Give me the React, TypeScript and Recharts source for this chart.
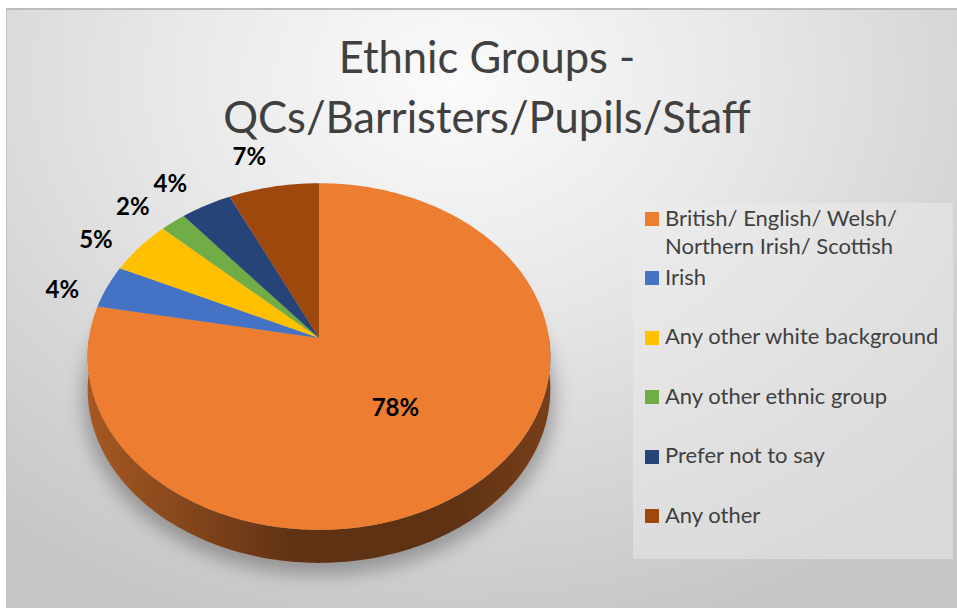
import React from 'react';
import { PieChart, Pie, Cell, Legend } from 'recharts';

const categories = [
  'British/ English/ Welsh/ Northern Irish/ Scottish',
  'Irish',
  'Any other white background',
  'Any other ethnic group',
  'Prefer not to say',
  'Any other',
];
const values = [78, 4, 5, 2, 4, 7];
const colors = ['#ED7D31', '#4472C4', '#FFC000', '#70AD47', '#264478', '#9E480E'];
const titleLines = ['Ethnic Groups -', 'QCs/Barristers/Pupils/Staff'];

const data = categories.map((name, i) => ({ name, value: values[i] }));
const baseData = [{ name: 'base', value: 1 }];

const TILT = 0.745;
const PERSP = 0.107;
const DEPTH = 33;
const FONT = 'Lato, Carlito, Calibri, sans-serif';

function proj(cx: number, cy: number, R: number, deg: number, r = 1): [number, number] {
  const t = (deg * Math.PI) / 180;
  const u = r * Math.cos(t);
  const v = r * Math.sin(t);
  const d = 1 + PERSP * v;
  return [cx + (R * u) / d, cy - (R * TILT * v) / d];
}

function shade(hex: string, f: number) {
  const n = parseInt(hex.slice(1), 16);
  const r = Math.round(((n >> 16) & 255) * f);
  const g = Math.round(((n >> 8) & 255) * f);
  const b = Math.round((n & 255) * f);
  return `rgb(${r},${g},${b})`;
}

function arcPts(cx: number, cy: number, R: number, a1: number, a2: number, dy = 0) {
  const steps = Math.max(2, Math.ceil(Math.abs(a2 - a1)));
  const out: string[] = [];
  for (let s = 0; s <= steps; s++) {
    const a = a1 + ((a2 - a1) * s) / steps;
    const [x, y] = proj(cx, cy, R, a);
    out.push(`${x.toFixed(2)},${(y + dy).toFixed(2)}`);
  }
  return out;
}

const SliceShape = (props: any) => {
  const { cx, cy, outerRadius, startAngle, endAngle, fill, index } = props;
  const R = outerRadius;
  const lo = Math.min(startAngle, endAngle);
  const hi = Math.max(startAngle, endAngle);
  const sides: string[] = [];
  for (let k = -2; k <= 1; k++) {
    const a1 = Math.max(lo, -180 + 360 * k);
    const a2 = Math.min(hi, 360 * k);
    if (a2 - a1 > 0.01) {
      const topArc = arcPts(cx, cy, R, a1, a2);
      const botArc = arcPts(cx, cy, R, a2, a1, DEPTH);
      sides.push('M' + topArc.join(' L') + ' L' + botArc.join(' L') + ' Z');
    }
  }
  const top = `M${cx},${cy} L` + arcPts(cx, cy, R, startAngle, endAngle).join(' L') + ' Z';
  const gid = `side-grad-${index}`;
  return (
    <g>
      <defs>
        <linearGradient id={gid} gradientUnits="userSpaceOnUse" x1={cx - R} y1={0} x2={cx + R} y2={0}>
          <stop offset="0" stopColor={shade(fill, 0.7)} />
          <stop offset="0.45" stopColor={shade(fill, 0.4)} />
          <stop offset="0.8" stopColor={shade(fill, 0.4)} />
          <stop offset="1" stopColor={shade(fill, 0.5)} />
        </linearGradient>
      </defs>
      {sides.map((d, i) => (
        <path key={i} d={d} fill={`url(#${gid})`} stroke="none" />
      ))}
      <path d={top} fill={fill} stroke="none" />
    </g>
  );
};

const ShadowShape = (props: any) => {
  const { cx, cy, outerRadius } = props;
  const R = outerRadius;
  const top = 'M' + arcPts(cx, cy, R * 1.02, 0, 360, DEPTH + 8).join(' L') + ' Z';
  return (
    <g>
      <defs>
        <filter id="pie-shadow" x="-30%" y="-30%" width="160%" height="160%">
          <feGaussianBlur stdDeviation="9" />
        </filter>
      </defs>
      <path d={top} fill="#000" fillOpacity={0.28} filter="url(#pie-shadow)" />
    </g>
  );
};

const renderLabel = (props: any) => {
  const { cx, cy, midAngle, outerRadius, percent, value } = props;
  let x: number;
  let y: number;
  if (percent > 0.5) {
    [x, y] = proj(cx, cy, outerRadius, midAngle, 0.5);
  } else {
    const [ex, ey] = proj(cx, cy, outerRadius, midAngle, 1);
    const t = ((midAngle + 20) * Math.PI) / 180;
    x = ex + 45 * Math.cos(t);
    y = ey - 37 * Math.sin(t);
  }
  return (
    <text x={x} y={y} textAnchor="middle" dominantBaseline="central" fontFamily={FONT} fontWeight={700} fontSize={24} fill="#000">
      {`${value}%`}
    </text>
  );
};

const renderLegend = (props: any) => {
  const payload = props.payload || [];
  const items = categories.map((name, i) => {
    const p = payload.find((q: any) => q.value === name);
    return { name, color: (p && p.color) || colors[i] };
  });
  return (
    <div style={{ position: 'relative', width: 320, height: 356, background: 'rgba(236,236,236,0.5)' }}>
      {items.map((it, i) => {
        const top = 9 + i * 59.4;
        return (
          <div key={it.name} style={{ position: 'absolute', left: 0, top: 0 }}>
            <div style={{ position: 'absolute', left: 12, top, width: 14, height: 14, background: it.color }} />
            <div
              style={{
                position: 'absolute',
                left: 32,
                top: top - 8.5,
                width: 285,
                fontFamily: FONT,
                fontSize: 22,
                lineHeight: '28px',
                color: '#404040',
                whiteSpace: 'normal',
              }}
            >
              {it.name}
            </div>
          </div>
        );
      })}
    </div>
  );
};

export default function App() {
  return (
    <>
      <style>{`html,body{margin:0;padding:0;overflow:hidden;background:#fff}`}</style>
      <div
        style={{
          position: 'relative',
          marginLeft: 6,
          marginTop: 8,
          width: 951,
          height: 600,
          background:
            'radial-gradient(ellipse 75% 95% at 47% 12%, #fbfbfb 0%, #e8e8e8 40%, #d4d4d4 75%, #c6c6c6 100%)',
          overflow: 'hidden',
        }}
      >
        <div style={{ position: 'absolute', left: 0, top: 0, width: 951, height: 2, background: '#bdbdbd' }} />
        <div style={{ position: 'absolute', left: 0, top: 0, width: 1, height: 600, background: '#c2c2c2' }} />
        <svg width={951} height={160} style={{ position: 'absolute', left: 0, top: 0 }}>
          {titleLines.map((t, i) => (
            <text key={t} x={481} y={65 + i * 60} textAnchor="middle" fontFamily={FONT} fontSize={43.5} fill="#404040">
              {t}
            </text>
          ))}
        </svg>
        <div style={{ position: 'absolute', left: 0, top: 0 }}>
          <PieChart width={951} height={600} margin={{ top: 0, right: 0, bottom: 0, left: 0 }}>
            <Pie
              data={baseData}
              dataKey="value"
              cx={313}
              cy={330}
              outerRadius={230}
              startAngle={90}
              endAngle={-270}
              isAnimationActive={false}
              legendType="none"
              shape={ShadowShape}
              stroke="none"
            />
            <Pie
              data={data}
              dataKey="value"
              nameKey="name"
              cx={313}
              cy={330}
              outerRadius={230}
              startAngle={90}
              endAngle={-270}
              isAnimationActive={false}
              shape={SliceShape}
              label={renderLabel}
              labelLine={false}
              stroke="none"
            >
              {data.map((d, i) => (
                <Cell key={d.name} fill={colors[i]} />
              ))}
            </Pie>
            <Legend
              layout="vertical"
              align="right"
              verticalAlign="middle"
              content={renderLegend}
              wrapperStyle={{ position: 'absolute', left: 627, top: 195, width: 320, height: 356 }}
            />
          </PieChart>
        </div>
      </div>
    </>
  );
}
